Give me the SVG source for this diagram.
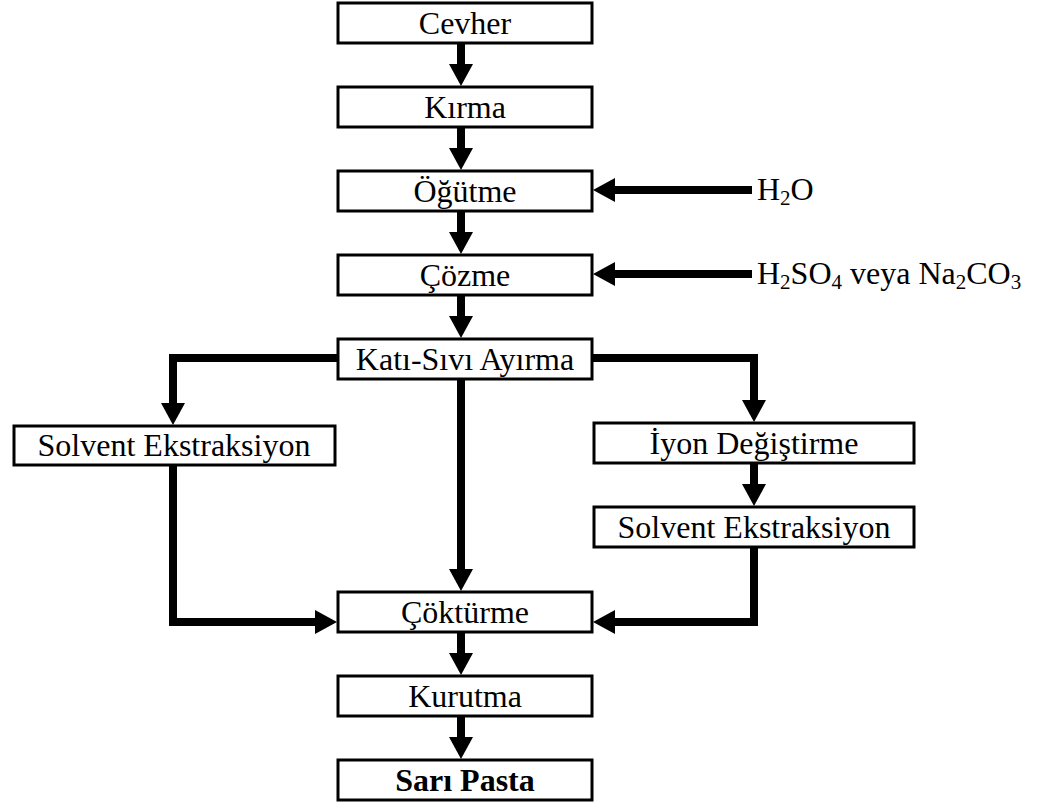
<svg xmlns="http://www.w3.org/2000/svg" width="1045" height="805" viewBox="0 0 1045 805">
<style>
.box{fill:#fff;stroke:#000;stroke-width:3}
.t{font-family:"Liberation Serif","Times New Roman",serif;font-size:32px;fill:#000;text-anchor:middle}
.lbl{font-family:"Liberation Serif","Times New Roman",serif;font-size:32px;fill:#000}
.c{fill:none;stroke:#000;stroke-width:8;stroke-linejoin:miter}
</style>
<defs>
<marker id="ah" viewBox="0 0 22 24" markerWidth="22" markerHeight="24" refX="1" refY="12" markerUnits="userSpaceOnUse" orient="auto">
<path d="M0,0 L22,12 L0,24 Z" fill="#000"/>
</marker>
</defs>
<rect width="1045" height="805" fill="#fff"/>
<g id="connectors">
<path class="c" d="M461,43 V65" marker-end="url(#ah)"/>
<path class="c" d="M461,127 V149" marker-end="url(#ah)"/>
<path class="c" d="M461,211 V233" marker-end="url(#ah)"/>
<path class="c" d="M461,295 V317" marker-end="url(#ah)"/>
<path class="c" d="M752,190 H614" marker-end="url(#ah)"/>
<path class="c" d="M752,274 H614" marker-end="url(#ah)"/>
<path class="c" d="M338,358 H173 V404" marker-end="url(#ah)"/>
<path class="c" d="M592,358 H754 V401" marker-end="url(#ah)"/>
<path class="c" d="M461,380 V570" marker-end="url(#ah)"/>
<path class="c" d="M754,463 V485" marker-end="url(#ah)"/>
<path class="c" d="M173,465 V622 H316" marker-end="url(#ah)"/>
<path class="c" d="M754,547 V622 H614" marker-end="url(#ah)"/>
<path class="c" d="M461,632 V654" marker-end="url(#ah)"/>
<path class="c" d="M461,716 V738" marker-end="url(#ah)"/>
</g>
<g id="cevher"><rect class="box" x="338" y="3" width="254" height="40"/><text class="t" x="465" y="34">Cevher</text></g>
<g id="kirma"><rect class="box" x="338" y="87" width="254" height="40"/><text class="t" x="465" y="118">Kırma</text></g>
<g id="ogutme"><rect class="box" x="338" y="171" width="254" height="40"/><text class="t" x="465" y="202">Öğütme</text></g>
<g id="cozme"><rect class="box" x="338" y="255" width="254" height="40"/><text class="t" x="465" y="286">Çözme</text></g>
<g id="kati-sivi"><rect class="box" x="338" y="339" width="254" height="40"/><text class="t" x="465" y="370">Katı-Sıvı Ayırma</text></g>
<g id="solvent-left"><rect class="box" x="14" y="426" width="321" height="39"/><text class="t" x="174" y="456">Solvent Ekstraksiyon</text></g>
<g id="iyon"><rect class="box" x="594" y="423" width="320" height="40"/><text class="t" x="754" y="454">İyon Değiştirme</text></g>
<g id="solvent-right"><rect class="box" x="594" y="507" width="320" height="40"/><text class="t" x="754" y="538">Solvent Ekstraksiyon</text></g>
<g id="cokturme"><rect class="box" x="338" y="592" width="254" height="40"/><text class="t" x="465" y="623">Çöktürme</text></g>
<g id="kurutma"><rect class="box" x="338" y="676" width="254" height="40"/><text class="t" x="465" y="707">Kurutma</text></g>
<g id="sari-pasta"><rect class="box" x="338" y="760" width="254" height="40"/><text class="t" x="465" y="791" font-weight="bold">Sarı Pasta</text></g>
<g id="h2o"><text class="lbl" x="757" y="200">H<tspan font-size="21" dy="5">2</tspan><tspan dy="-5">O</tspan></text></g>
<g id="h2so4"><text class="lbl" x="757" y="284">H<tspan font-size="21" dy="5">2</tspan><tspan dy="-5">SO</tspan><tspan font-size="21" dy="5">4</tspan><tspan dy="-5"> veya Na</tspan><tspan font-size="21" dy="5">2</tspan><tspan dy="-5">CO</tspan><tspan font-size="21" dy="5">3</tspan></text></g>
</svg>
